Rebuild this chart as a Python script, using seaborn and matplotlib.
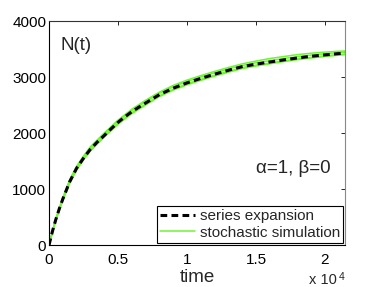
import matplotlib
matplotlib.use("Agg")
import matplotlib.pyplot as plt
import seaborn as sns
import pandas as pd

sns.set_style("white")
plt.rcParams["font.family"] = ["Liberation Sans", "DejaVu Sans"]

# time points (raw units, axis shows x 10^4)
t = [0, 250, 500, 750, 1000, 1500, 2000, 2500, 3000, 3500, 4000, 4500, 5000,
     5500, 6000, 6500, 7000, 8000, 9000, 10000, 11000, 12000, 13000, 14000,
     15000, 16000, 17000, 18000, 19000, 20000, 21000, 21500]

series_exp = [0, 245, 460, 650, 820, 1130, 1370, 1550, 1710, 1840, 1955, 2075,
              2190, 2290, 2380, 2460, 2535, 2685, 2800, 2895, 2975, 3050, 3120,
              3185, 3230, 3268, 3305, 3340, 3370, 3395, 3418, 3428]

# a few stochastic runs (green band)
t_sim = [0, 500, 1000, 1500, 2000, 2500, 3000, 4000, 5000, 6000, 7000, 8000, 9000,
         10000, 11000, 12000, 13000, 14000, 15000, 16000, 17000, 18000, 19000,
         20000, 21000, 21500]
sim_a = [0, 475, 845, 1165, 1410, 1590, 1755, 2000, 2230, 2425, 2585, 2730, 2850,
         2945, 3025, 3100, 3170, 3235, 3285, 3330, 3365, 3400, 3425, 3445, 3460, 3465]
sim_b = [0, 445, 795, 1100, 1340, 1520, 1680, 1925, 2155, 2345, 2500, 2650, 2765,
         2860, 2940, 3015, 3085, 3150, 3195, 3235, 3275, 3310, 3340, 3365, 3390, 3400]
sim_c = [0, 468, 832, 1148, 1388, 1572, 1732, 1978, 2210, 2400, 2558, 2708, 2825,
         2920, 3000, 3075, 3145, 3205, 3255, 3292, 3330, 3362, 3392, 3415, 3438, 3446]
sim_d = [0, 452, 810, 1118, 1358, 1538, 1695, 1940, 2172, 2362, 2515, 2665, 2780,
         2878, 2958, 3032, 3102, 3168, 3212, 3250, 3288, 3322, 3352, 3378, 3402, 3412]

x_ticks = [0, 5000, 10000, 15000, 20000]
x_ticklabels = ["0", "0.5", "1", "1.5", "2"]
y_ticks = [0, 1000, 2000, 3000, 4000]

green = "#72F236"

fig = plt.figure(figsize=(3.81, 2.87), dpi=100)
ax = fig.add_axes([0.1286, 0.1463, 0.7769, 0.7805])

for i, sim in enumerate([sim_a, sim_b, sim_c, sim_d]):
    df = pd.DataFrame({"t": t_sim, "N": sim})
    sns.lineplot(data=df, x="t", y="N", ax=ax, color=green, linewidth=1.1,
                 label="stochastic simulation" if i == 0 else None)

df = pd.DataFrame({"t": t, "N": series_exp})
sns.lineplot(data=df, x="t", y="N", ax=ax, color="black", linewidth=2.2,
             label="series expansion")
ax.lines[-1].set_dashes((2.2, 1.4))

ax.set_xlim(0, 21450)
ax.set_ylim(0, 4000)
ax.set_xticks(x_ticks)
ax.set_xticklabels(x_ticklabels)
ax.set_yticks(y_ticks)
ax.set_xlabel("time", fontsize=13.5, labelpad=1)
ax.set_ylabel("")
ax.tick_params(direction="in", length=3, width=0.6, labelsize=11,
               top=True, right=True, pad=2, colors="black")
ax.tick_params(axis="x", pad=6)
for s in ["left", "bottom"]:
    ax.spines[s].set_color("black")
    ax.spines[s].set_linewidth(0.8)
ax.spines["top"].set_color("#333333")
ax.spines["top"].set_linewidth(0.8)
ax.spines["right"].set_color("#888888")
ax.spines["right"].set_linewidth(0.8)

ax.text(0.04, 0.93, "N(t)", transform=ax.transAxes, fontsize=13.5,
        ha="left", va="top")
ax.text(0.95, 0.305, "α=1, β=0", transform=ax.transAxes, fontsize=13.5,
        ha="right", va="bottom")

handles, labels = ax.get_legend_handles_labels()
order = [labels.index("series expansion"), labels.index("stochastic simulation")]
leg = ax.legend([handles[k] for k in order], [labels[k] for k in order],
                loc="lower right", bbox_to_anchor=(0.993, 0.01), fontsize=11,
                frameon=True, fancybox=False, framealpha=1, edgecolor="black",
                handlelength=2.3, handletextpad=0.3, borderpad=0.2,
                labelspacing=0.15, borderaxespad=0.0)
leg.get_frame().set_linewidth(0.8)

fig.text(0.811, 0.012, "x 10", fontsize=10.5, ha="left", va="baseline")
fig.text(0.889, 0.026, "4", fontsize=7.5, ha="left", va="baseline")

fig.savefig("out.png", dpi=100)
